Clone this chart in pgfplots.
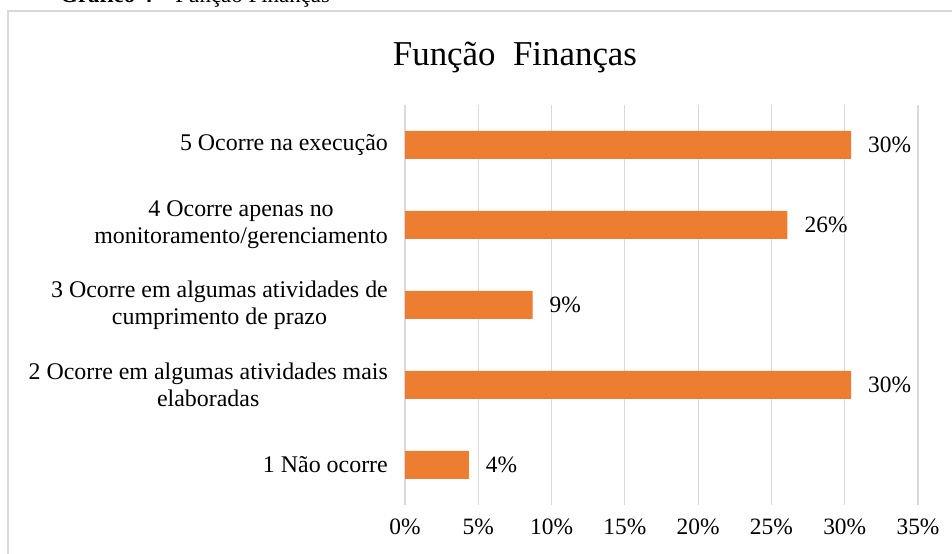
\documentclass[border=0pt]{standalone}
\usepackage{pgfplots}
\pgfplotsset{compat=1.18}
\usepackage{fontspec}
\setmainfont{Liberation Serif}
\definecolor{barorange}{HTML}{ED7D31}
\definecolor{gridgray}{HTML}{D9D9D9}
\definecolor{framegray}{HTML}{D9D9D9}
\begin{document}
\begin{tikzpicture}[x=1bp,y=1bp]
\useasboundingbox (0,0) rectangle (952,554);
\clip (0,0) rectangle (952,554);
\node[anchor=base west, font=\fontsize{23}{26}\selectfont, inner sep=0] at (60,551) {\textbf{Gráfico 4} – Função Finanças};
\draw[framegray, line width=2bp] (8,-5) -- (8,543) -- (960,543);
\node[font=\fontsize{35}{40}\selectfont, anchor=base] at (515,488) {Função\ \ Finanças};
\begin{axis}[
  at={(405bp,49bp)}, anchor=south west,
  scale only axis, width=513bp, height=400bp,
  xbar, bar width=28bp,
  xmin=0, xmax=35, ymin=0.5, ymax=5.5,
  xtick={0,5,...,35},
  xticklabel={\pgfmathprintnumber{\tick}\%},
  /pgf/number format/assume math mode=true,
  ytick={1,2,3,4,5},
  yticklabels={{1 Não ocorre},{2 Ocorre em algumas atividades mais\\elaboradas},{3 Ocorre em algumas atividades de\\cumprimento de prazo},{4 Ocorre apenas no\\monitoramento/gerenciamento},{5 Ocorre na execução}},
  yticklabel style={align=center, font=\fontsize{24}{27}\selectfont, inner sep=0pt, xshift=-17bp},
  xticklabel style={font=\fontsize{23.5}{26}\selectfont, inner sep=0pt, yshift=-14bp},
  major tick length=0pt,
  axis line style={draw=none},
  xmajorgrids, grid style={gridgray, line width=1.2bp},
  nodes near coords,
  point meta=explicit symbolic,
  every node near coord/.append style={font=\fontsize{23.5}{26}\selectfont, anchor=west, inner sep=0pt, xshift=17bp, text=black},
  clip=false,
]
\addplot[fill=barorange, draw=none] coordinates {
  (4.35,1) [4\%]
  (30.43,2) [30\%]
  (8.70,3) [9\%]
  (26.09,4) [26\%]
  (30.43,5) [30\%]
};
\end{axis}
\end{tikzpicture}
\end{document}
